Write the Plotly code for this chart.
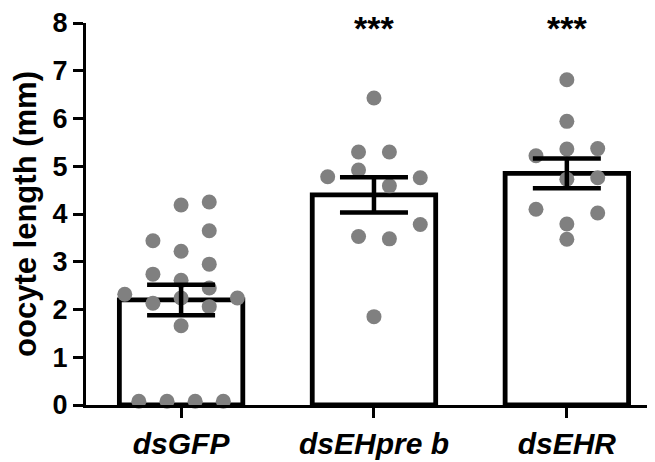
import plotly.graph_objects as go

categories = ["dsGFP", "dsEHpre b", "dsEHR"]
means = [2.20, 4.40, 4.85]
sems = [0.32, 0.37, 0.31]
significance = ["", "***", "***"]

# individual points per group (values) and their jitter column (in dot-columns)
gfp_vals = [4.19, 4.25, 3.65, 3.44, 3.22, 2.95, 2.74, 2.61, 2.45, 2.32, 2.24, 2.24, 2.13, 2.06, 1.66, 0.08, 0.08, 0.08, 0.08]
gfp_cols = [0, 1, 1, -1, 0, 1, -1, 0, 1, -2, 2, 0, -1, 1, 0, -1.5, -0.5, 0.5, 1.5]
ehpre_vals = [6.43, 5.30, 5.30, 4.92, 4.78, 4.76, 4.59, 3.78, 3.53, 3.48, 1.85]
ehpre_cols = [0, -0.5, 0.5, -0.5, -1.5, 1.5, 0.5, 1.5, -0.5, 0.5, 0]
ehr_vals = [6.81, 5.94, 5.36, 5.37, 5.22, 4.73, 4.76, 4.10, 4.02, 3.79, 3.47]
ehr_cols = [0, 0, 0, 1, -1, 0, 1, -1, 1, 0, 0]

col_step = [0.146, 0.16, 0.16]
groups = [(gfp_vals, gfp_cols), (ehpre_vals, ehpre_cols), (ehr_vals, ehr_cols)]

FONT = "Liberation Sans"

fig = go.Figure()
fig.add_trace(go.Bar(
    x=list(range(len(categories))), y=means, width=0.64,
    marker=dict(color="white", line=dict(color="black", width=4.8)),
    showlegend=False, hoverinfo="skip"))

for i, (vals, cols) in enumerate(groups):
    xs = [i + c * col_step[i] for c in cols]
    fig.add_trace(go.Scatter(
        x=xs, y=vals, mode="markers",
        marker=dict(size=15, color="#808080", line=dict(width=0)),
        cliponaxis=False, showlegend=False))

fig.add_trace(go.Scatter(
    x=list(range(len(categories))), y=means, mode="markers",
    marker=dict(size=1, color="rgba(0,0,0,0)"),
    error_y=dict(type="data", array=sems, visible=True, color="black", thickness=4.5, width=34),
    showlegend=False, cliponaxis=False))

for i, s in enumerate(significance):
    if s:
        fig.add_annotation(x=i, y=7.9, text="<b>" + s + "</b>", showarrow=False,
                           font=dict(family=FONT, size=34, color="black"), yanchor="middle")

# page body has an 8px default margin; figure is sized to fill the remaining window
fig.update_layout(
    width=647, height=454,
    margin=dict(l=78, r=0, t=12, b=57),
    plot_bgcolor="white", paper_bgcolor="white",
    font=dict(family=FONT, color="black"),
)
fig.update_xaxes(
    range=[-0.493, 2.457], tickmode="array", tickvals=list(range(len(categories))),
    ticktext=["<b><i>" + c + "</i></b>" for c in categories],
    tickfont=dict(family=FONT, size=30, color="black"),
    showline=True, linecolor="black", linewidth=3,
    ticks="outside", ticklen=10, tickwidth=3, tickcolor="black",
    showgrid=False, zeroline=False)
fig.update_yaxes(
    range=[0, 8], dtick=1, tick0=0, ticklabeloverflow="allow",
    title=dict(text="<b>oocyte length (mm)</b>", font=dict(family=FONT, size=31, color="black"), standoff=8),
    tickfont=dict(family=FONT, size=27, color="black"), tickprefix="<b>", ticksuffix="</b>",
    showline=True, linecolor="black", linewidth=3,
    ticks="outside", ticklen=10, tickwidth=3, tickcolor="black",
    showgrid=False, zeroline=False)

fig.write_html("out.html")
